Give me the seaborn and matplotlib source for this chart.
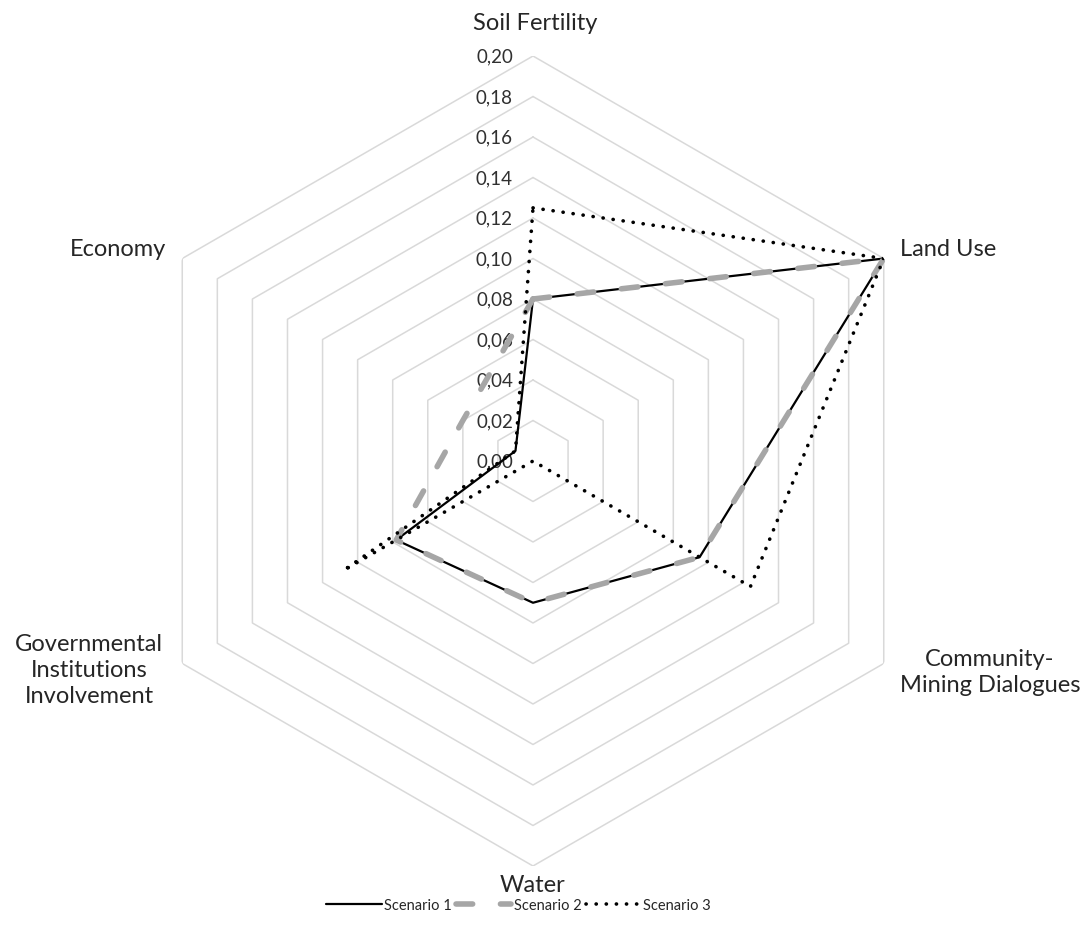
import numpy as np
import pandas as pd
import matplotlib
matplotlib.use("Agg")
import matplotlib.pyplot as plt
import seaborn as sns

# --- data ---------------------------------------------------------------
categories = ["Soil Fertility", "Land Use", "Community-\nMining Dialogues",
              "Water", "Governmental\nInstitutions\nInvolvement", "Economy"]
scenario_1 = [0.080, 0.200, 0.095, 0.070, 0.078, 0.010]
scenario_2 = [0.080, 0.200, 0.095, 0.070, 0.078, 0.040]
scenario_3 = [0.125, 0.200, 0.124, 0.000, 0.108, 0.010]
ring_levels = [0.00, 0.02, 0.04, 0.06, 0.08, 0.10, 0.12, 0.14, 0.16, 0.18, 0.20]
ring_labels = ["0,00", "0,02", "0,04", "0,06", "0,08", "0,10",
               "0,12", "0,14", "0,16", "0,18", "0,20"]
series_names = ["Scenario 1", "Scenario 2", "Scenario 3"]

sns.set_theme(style="white")
plt.rcParams["font.family"] = ["Lato", "DejaVu Sans"]

W, H = 1083, 928
fig = plt.figure(figsize=(W / 100, H / 100), dpi=100)
cx, cy, R = 533, 462, 405
ax = fig.add_axes([(cx - R) / W, (H - cy - R) / H, 2 * R / W, 2 * R / H],
                  projection="polar")
ax.set_theta_zero_location("N")
ax.set_theta_direction(-1)
ax.grid(False)
ax.spines["polar"].set_visible(False)
ax.patch.set_visible(False)

n = len(categories)
angles = np.linspace(0, 2 * np.pi, n, endpoint=False)
closed = np.append(angles, 2 * np.pi)

# hexagonal grid rings
for lvl in ring_levels[1:]:
    ax.plot(closed, [lvl] * (n + 1), color="#D9D9D9", lw=1.1, zorder=1)

# radial value labels along the top spoke
for lvl, txt in zip(ring_levels, ring_labels):
    ax.annotate(txt, xy=(0, lvl), xytext=(-20, 0), textcoords="offset pixels",
                ha="right", va="center", fontsize=13.5, color="#303030")

# scenario lines
styles = [
    dict(color="black", lw=1.6, linestyle="-"),
    dict(color="#A6A6A6", lw=4.0, linestyle=(0, (3, 5)), dash_capstyle="round"),
    dict(color="black", lw=2.6, linestyle=(0, (0.05, 2.75)), dash_capstyle="round"),
]
for name, vals, st in zip(series_names, [scenario_1, scenario_2, scenario_3], styles):
    df = pd.DataFrame({"theta": closed, "value": vals + vals[:1]})
    sns.lineplot(data=df, x="theta", y="value", sort=False, estimator=None,
                 errorbar=None, ax=ax, label=name, zorder=3, **st)

ax.set_ylim(0, 0.20)
ax.set_xticks([])
ax.set_yticks([])
ax.set_xlabel("")
ax.set_ylabel("")

# category labels placed just outside the outer ring
label_pos = [
    ((2, 34), "center", "center"),
    ((16, 10), "left", "center"),
    ((16, -8), "left", "center"),
    ((0, -8), "center", "top"),
    ((-19, -6), "right", "center"),
    ((-16, 10), "right", "center"),
]
for ang, cat, (off, ha, va) in zip(angles, categories, label_pos):
    ax.annotate(cat, xy=(ang, 0.20), xytext=off, textcoords="offset pixels",
                ha=ha, va=va, multialignment="center", fontsize=17,
                linespacing=1.3, color="#262626", annotation_clip=False)

handles, labels = ax.get_legend_handles_labels()
ax.legend_.remove()
fig.legend(handles, labels, loc="lower center", bbox_to_anchor=(0.479, 0.002),
           ncol=3, frameon=False, fontsize=10.5, handlelength=3.8,
           columnspacing=0.3, handletextpad=0.15)

fig.savefig("out.png", dpi=100, facecolor="white")
